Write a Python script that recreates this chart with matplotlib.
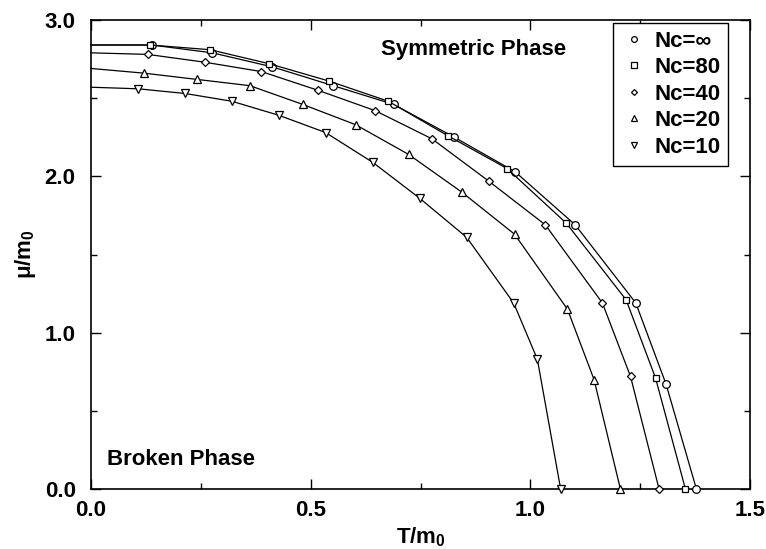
import matplotlib
matplotlib.use("Agg")
import matplotlib.pyplot as plt
from matplotlib.ticker import MultipleLocator, FormatStrFormatter

plt.rcParams['font.family'] = ['Liberation Sans', 'DejaVu Sans']
plt.rcParams['font.weight'] = 'bold'
plt.rcParams['axes.labelweight'] = 'bold'
plt.rcParams['mathtext.fontset'] = 'custom'
plt.rcParams['mathtext.rm'] = 'Liberation Sans:bold'
plt.rcParams['mathtext.it'] = 'Liberation Sans:bold'
plt.rcParams['mathtext.default'] = 'regular'

# ---- data ----
labels = ["Nc=\u221e", "Nc=80", "Nc=40", "Nc=20", "Nc=10"]
markers = ["o", "s", "D", "^", "v"]
msizes = [5.5, 5.0, 4.0, 5.5, 5.5]

T_inf = [0, 0.138, 0.276, 0.413, 0.551, 0.689, 0.827, 0.965, 1.102, 1.240, 1.309, 1.378]
mu_inf = [2.84, 2.84, 2.79, 2.70, 2.58, 2.46, 2.25, 2.03, 1.69, 1.19, 0.67, 0.0]

T_80 = [0, 0.135, 0.271, 0.406, 0.541, 0.677, 0.812, 0.947, 1.082, 1.218, 1.285, 1.353]
mu_80 = [2.84, 2.84, 2.81, 2.72, 2.61, 2.48, 2.26, 2.05, 1.70, 1.21, 0.71, 0.0]

T_40 = [0, 0.129, 0.259, 0.388, 0.517, 0.647, 0.776, 0.905, 1.034, 1.164, 1.228, 1.293]
mu_40 = [2.79, 2.78, 2.73, 2.67, 2.55, 2.42, 2.24, 1.97, 1.69, 1.19, 0.72, 0.0]

T_20 = [0, 0.1205, 0.241, 0.3615, 0.482, 0.6025, 0.723, 0.8435, 0.964, 1.0845, 1.145, 1.205]
mu_20 = [2.69, 2.66, 2.62, 2.58, 2.46, 2.33, 2.14, 1.90, 1.63, 1.15, 0.70, 0.0]

T_10 = [0, 0.107, 0.214, 0.321, 0.428, 0.534, 0.641, 0.748, 0.855, 0.962, 1.016, 1.069]
mu_10 = [2.57, 2.56, 2.53, 2.48, 2.39, 2.28, 2.09, 1.86, 1.61, 1.19, 0.83, 0.0]

series_T = [T_inf, T_80, T_40, T_20, T_10]
series_mu = [mu_inf, mu_80, mu_40, mu_20, mu_10]

x_ticks = [0.0, 0.5, 1.0, 1.5]
y_ticks = [0.0, 1.0, 2.0, 3.0]

# ---- figure ----
fig = plt.figure(figsize=(7.66, 5.49), dpi=100)
ax = fig.add_axes([91/766, 1-489/549, (750-91)/766, (489-20)/549])

for T, mu, lab, m, ms in zip(series_T, series_mu, labels, markers, msizes):
    ax.plot(T, mu, color='black', lw=0.9, marker=m, ms=ms, mfc='white',
            mec='black', mew=0.9, markevery=slice(1, None), label=lab,
            clip_on=False, zorder=3)

ax.set_xlim(0, 1.5)
ax.set_ylim(0, 3.0)
ax.set_xticks(x_ticks)
ax.set_yticks(y_ticks)
ax.xaxis.set_minor_locator(MultipleLocator(0.25))
ax.yaxis.set_minor_locator(MultipleLocator(0.5))
ax.xaxis.set_major_formatter(FormatStrFormatter('%.1f'))
ax.yaxis.set_major_formatter(FormatStrFormatter('%.1f'))
ax.tick_params(which='both', direction='in', top=True, right=True,
               labelsize=16, width=1.0)
ax.tick_params(which='major', length=7)
ax.tick_params(axis='y', which='major', pad=11)
ax.tick_params(axis='x', which='major', pad=8)
ax.tick_params(which='minor', length=4)
for s in ax.spines.values():
    s.set_linewidth(1.2)

ax.set_xlabel('T/m$_0$', fontsize=16, fontweight='bold', labelpad=3)
ax.set_ylabel('\u03bc/m$_0$', fontsize=16, fontweight='bold', labelpad=5)

ax.text(0.661, 2.81, 'Symmetric Phase', fontsize=16, va='center', ha='left')
ax.text(0.036, 0.186, 'Broken Phase', fontsize=16, va='center', ha='left')

leg = ax.legend(loc='upper right', bbox_to_anchor=(0.967, 0.994),
                borderaxespad=0, fontsize=16, frameon=True, fancybox=False,
                edgecolor='black', framealpha=1, handlelength=1.2,
                handletextpad=0.3, labelspacing=0.25, borderpad=0.35,
                markerscale=0.75)
leg.get_frame().set_linewidth(1.0)
for h in leg.get_lines():
    h.set_linestyle('none')

fig.savefig('out.png', dpi=100)
